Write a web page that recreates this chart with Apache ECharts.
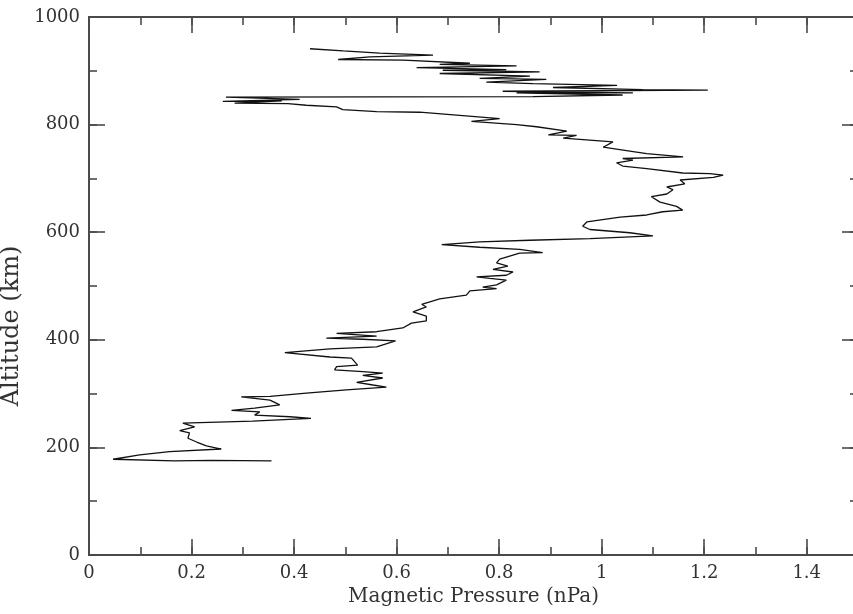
<!DOCTYPE html>
<html>
<head>
<meta charset="utf-8">
<script src="https://cdn.jsdelivr.net/npm/echarts@6/dist/echarts.min.js"></script>
<style>html,body{margin:0;padding:0;background:#fff}#c{width:853px;height:614px}</style>
</head>
<body>
<div id="c"></div>
<script>
// Magnetic pressure (nPa) along the profile, in order
const pressure = [0.356,0.239,0.167,0.047,0.099,0.157,0.258,0.229,0.210,0.193,0.196,0.177,0.206,0.183,0.319,0.433,0.392,0.323,0.333,0.278,
0.323,0.372,0.353,0.297,0.353,0.424,0.502,0.580,0.554,0.522,0.573,0.534,0.573,0.534,0.479,0.483,0.524,0.512,0.470,0.382,
0.470,0.561,0.598,0.534,0.463,0.561,0.483,0.561,0.612,0.629,0.658,0.658,0.632,0.658,0.649,0.684,0.736,0.743,0.795,0.768,
0.795,0.814,0.782,0.756,0.814,0.827,0.788,0.817,0.795,0.801,0.840,0.885,0.840,0.762,0.688,0.762,0.860,0.977,1.100,1.055,
0.977,0.963,0.971,1.036,1.088,1.119,1.158,1.146,1.114,1.097,1.127,1.139,1.127,1.162,1.153,1.218,1.237,1.211,1.158,1.088,
1.041,1.029,1.061,1.041,1.159,1.088,1.068,1.003,1.022,0.925,0.951,0.896,0.932,0.873,0.834,0.746,0.801,0.723,0.645,0.561,
0.495,0.483,0.424,0.388,0.284,0.376,0.261,0.411,0.267,0.866,1.041,0.834,1.061,0.807,1.207,1.080,0.905,1.030,0.866,0.775,
0.892,0.762,0.860,0.684,0.879,0.690,0.814,0.639,0.834,0.684,0.743,0.613,0.486,0.548,0.671,0.567,0.496,0.431];
// Altitude (km) for each point
const altitude = [175,176,175,178,186,192,197,203,210,217,227,231,238,245,249,254,257,260,266,269,
273,279,288,294,295,301,307,312,316,321,329,334,338,341,344,350,353,366,368,376,
383,387,398,401,403,407,412,415,422,431,435,444,452,461,466,476,483,491,495,498,
502,511,514,517,520,526,531,537,543,550,561,562,568,572,577,582,585,588,593,599,
605,611,619,628,632,638,641,648,656,666,671,679,684,690,697,702,706,709,710,718,
723,729,734,737,740,746,749,758,768,775,780,781,788,796,800,806,811,817,823,824,
828,833,836,839,840,844,843,847,851,852,855,859,859,862,864,865,869,873,876,879,
884,886,890,895,898,901,902,906,909,912,914,920,921,926,929,933,937,941];

const xMin = 0, xMax = 1.5, xMajor = 0.2, xMinor = 0.1;
const yMin = 0, yMax = 1000, yMajor = 200, yMinor = 100;
const xTitle = 'Magnetic Pressure (nPa)';
const yTitle = 'Altitude (km)';

const lineCol = '#4a4a4a';
const font = 'DejaVu Serif';
const pts = pressure.map((p, i) => [p, altitude[i]]);
const fmt = v => String(v);

function xa(pos, interval, len, labels, name) {
  return {
    type: 'value', position: pos, min: xMin, max: xMax, interval: interval,
    axisLine: {show: true, onZero: false, lineStyle: {color: lineCol, width: 1.8}},
    axisTick: {show: true, inside: true, length: len, lineStyle: {color: lineCol, width: 1.6}},
    axisLabel: {show: labels, margin: 9, color: '#333', fontFamily: font, fontSize: 18, showMaxLabel: false, formatter: fmt},
    splitLine: {show: false},
    name: name || '', nameLocation: 'middle', nameGap: 32,
    nameTextStyle: {color: '#333', fontFamily: font, fontSize: 20}
  };
}
function ya(pos, interval, len, labels, name) {
  return {
    type: 'value', position: pos, min: yMin, max: yMax, interval: interval,
    axisLine: {show: true, onZero: false, lineStyle: {color: lineCol, width: 1.8}},
    axisTick: {show: true, inside: true, length: len, lineStyle: {color: lineCol, width: 1.6}},
    axisLabel: {show: labels, margin: 9, color: '#333', fontFamily: font, fontSize: 18, formatter: fmt},
    splitLine: {show: false},
    name: name || '', nameLocation: 'middle', nameGap: 57,
    nameTextStyle: {color: '#333', fontFamily: font, fontSize: 24, padding: [0, 80, 0, 0]}
  };
}

const chart = echarts.init(document.getElementById('c'), null, {renderer: 'canvas'});
chart.setOption({
  animation: false,
  backgroundColor: '#fff',
  grid: {left: 89, top: 17, right: -5, bottom: 59, containLabel: false, outerBoundsMode: 'none'},
  xAxis: [
    xa('bottom', xMajor, 16, true, xTitle),
    xa('bottom', xMinor, 8, false),
    xa('top', xMajor, 16, false),
    xa('top', xMinor, 8, false)
  ],
  yAxis: [
    ya('left', yMajor, 16, true, yTitle),
    ya('left', yMinor, 8, false),
    ya('right', yMajor, 16, false),
    ya('right', yMinor, 8, false)
  ],
  series: [{
    type: 'line', xAxisIndex: 0, yAxisIndex: 0, data: pts,
    showSymbol: false, symbol: 'none', smooth: false,
    lineStyle: {color: '#111', width: 1.3}
  }]
});
</script>
</body>
</html>
